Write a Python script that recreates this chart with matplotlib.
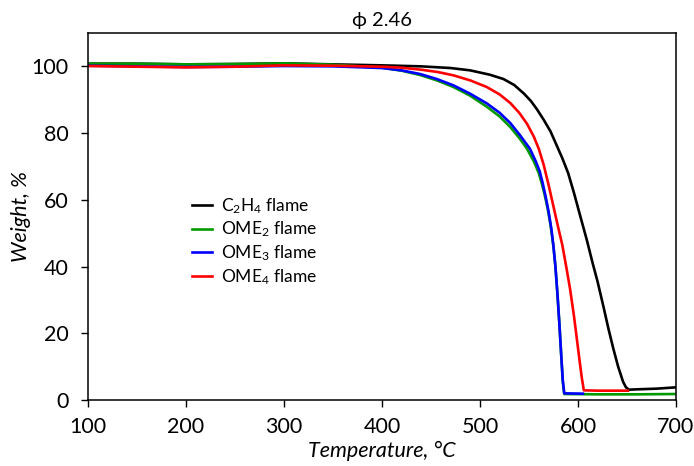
import matplotlib
matplotlib.use("Agg")
import matplotlib.pyplot as plt

plt.rcParams['font.family'] = ['Lato', 'DejaVu Sans']
plt.rcParams['mathtext.fontset'] = 'custom'
plt.rcParams['mathtext.rm'] = 'Lato'
plt.rcParams['mathtext.it'] = 'Lato:italic'

# TGA curves, temperature (°C) vs remaining weight (%)
t_c2h4 = [100, 150, 200, 250, 300, 350, 400, 440, 470, 490, 510, 524, 535, 545, 552,
          558, 565, 572, 578, 584, 590, 596, 602, 609, 615, 620, 626, 631, 636, 641,
          646, 649, 652, 660, 680, 700]
w_c2h4 = [100.8, 100.8, 100.6, 100.7, 100.9, 100.6, 100.3, 100.0, 99.5, 98.8, 97.5,
          96.2, 94.4, 91.8, 89.6, 87.2, 84.0, 80.5, 76.5, 72.5, 68.0, 62.0, 55.5, 48.0,
          41.0, 35.5, 28.0, 21.5, 15.5, 10.0, 5.5, 3.8, 3.1, 3.2, 3.4, 3.8]

t_ome2 = [100, 150, 200, 250, 300, 350, 400, 420, 439, 456, 473, 490, 507, 520, 531,
          541, 548, 555, 560, 563, 566, 569, 572, 575, 577, 579, 581, 583, 584.5, 586,
          620, 660, 700]
w_ome2 = [100.8, 100.8, 100.6, 100.7, 100.9, 100.5, 99.6, 98.7, 97.4, 95.8, 93.8, 91.2,
          87.9, 85.0, 81.8, 78.2, 75.3, 71.5, 68.0, 65.0, 61.5, 57.5, 52.5, 46.0, 40.0,
          32.0, 23.0, 13.0, 5.5, 1.8, 1.7, 1.7, 1.8]

t_ome3 = [100, 150, 200, 250, 300, 350, 400, 420, 439, 456, 473, 490, 507, 520, 531,
          541, 551, 557, 561, 564, 567, 570, 573, 575, 577, 579, 581, 583, 584.5, 586, 605]
w_ome3 = [100.2, 100.0, 99.8, 99.9, 100.1, 100.0, 99.5, 98.8, 97.7, 96.2, 94.3, 91.8,
          88.9, 86.1, 83.0, 79.3, 75.3, 71.5, 68.5, 65.0, 61.0, 56.5, 51.0, 46.0, 40.0,
          32.0, 23.0, 13.0, 6.0, 2.0, 1.9]

t_ome4 = [100, 150, 200, 250, 300, 350, 400, 420, 440, 457, 473, 490, 507, 520, 531,
          540, 548, 555, 560, 565, 570, 575, 580, 584, 588, 592, 596, 599, 602, 604,
          606, 620, 640, 651]
w_ome4 = [100.1, 99.9, 99.7, 99.9, 100.3, 100.2, 99.9, 99.6, 99.0, 98.3, 97.3, 95.8,
          93.8, 91.6, 89.0, 86.1, 82.8, 78.9, 75.3, 70.5, 64.5, 58.0, 51.5, 46.5, 40.0,
          33.2, 25.0, 18.0, 11.0, 6.5, 2.9, 2.8, 2.8, 2.8]

fig = plt.figure(figsize=(6.94, 4.66), dpi=100)
ax = fig.add_axes([0.1268, 0.1416, 0.8472, 0.7876])

lw = 1.9
ax.plot(t_c2h4, w_c2h4, color='black', lw=lw, label='C$_2$H$_4$ flame')
ax.plot(t_ome2, w_ome2, color='#009900', lw=lw, label='OME$_2$ flame')
ax.plot(t_ome3, w_ome3, color='#0000ff', lw=lw, label='OME$_3$ flame')
ax.plot(t_ome4, w_ome4, color='#ff0000', lw=lw, label='OME$_4$ flame')

ax.set_xlim(100, 700)
ax.set_ylim(0, 110)
ax.set_xticks(range(100, 701, 100))
ax.set_yticks(range(0, 101, 20))
ax.tick_params(direction='out', length=5, width=1, labelsize=15.5)
ax.tick_params(axis='x', pad=7)
ax.tick_params(axis='y', pad=9)
for s in ax.spines.values():
    s.set_linewidth(1.1)

ax.set_xlabel('Temperature, °C', fontsize=15.5, style='italic', labelpad=3)
ax.set_ylabel('Weight, %', fontsize=15.5, style='italic', labelpad=0)
ax.set_title('ϕ 2.46', fontsize=14.5, pad=5)

ax.legend(loc='upper left', bbox_to_anchor=(0.165, 0.575), frameon=False,
          fontsize=12.5, handlelength=1.15, handletextpad=0.5, labelspacing=0.23,
          borderaxespad=0)

fig.savefig('out.png', dpi=100)
